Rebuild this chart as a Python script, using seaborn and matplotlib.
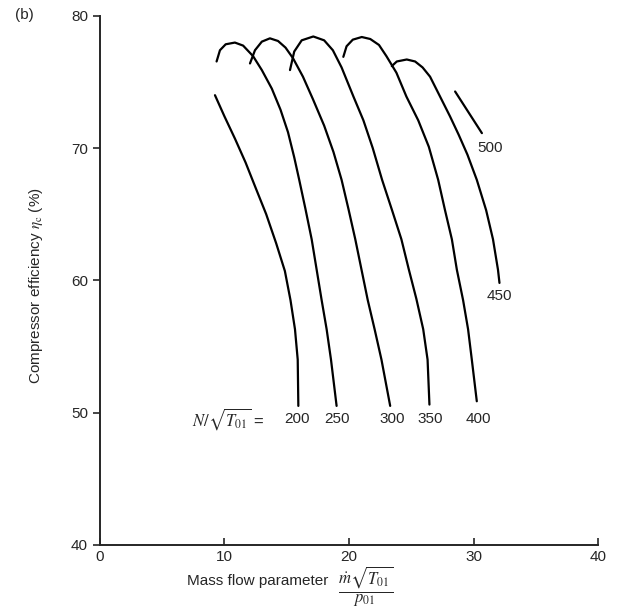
import pandas as pd
import matplotlib
matplotlib.use('Agg')
import matplotlib.pyplot as plt
import seaborn as sns

# Speed lines N/sqrt(T01): mass flow parameter vs compressor efficiency (%)
x_200 = [9.24, 10.0, 10.85, 11.7, 12.5, 13.35, 14.15, 14.85, 15.3, 15.66, 15.88, 15.93]
y_200 = [74.0, 72.4, 70.7, 68.9, 67.0, 65.0, 62.8, 60.7, 58.5, 56.3, 54.0, 50.5]

x_250 = [9.37, 9.64, 10.1, 10.84, 11.5, 12.3, 13.0, 13.8, 14.5, 15.1, 15.6, 16.0,
         16.5, 17.0, 17.4, 17.8, 18.2, 18.55, 19.0]
y_250 = [76.55, 77.4, 77.85, 77.98, 77.75, 76.95, 75.9, 74.5, 72.9, 71.2, 69.3, 67.6,
         65.4, 63.1, 60.8, 58.5, 56.3, 54.0, 50.5]

x_300 = [12.05, 12.45, 13.0, 13.65, 14.3, 14.9, 15.5, 16.3, 17.1, 18.0, 18.75, 19.4,
         19.95, 20.5, 21.0, 21.5, 22.05, 22.6, 23.3]
y_300 = [76.4, 77.4, 78.05, 78.3, 78.1, 77.6, 76.8, 75.4, 73.7, 71.7, 69.7, 67.6,
         65.4, 63.1, 60.8, 58.5, 56.3, 54.0, 50.5]

x_350 = [15.26, 15.6, 16.2, 17.13, 18.0, 18.7, 19.4, 20.35, 21.15, 21.9, 22.65, 23.45,
         24.2, 24.8, 25.4, 25.95, 26.3, 26.45]
y_350 = [75.9, 77.3, 78.15, 78.44, 78.15, 77.4, 76.1, 73.9, 72.1, 70.0, 67.6, 65.3,
         63.1, 60.8, 58.6, 56.3, 54.0, 50.6]

x_400 = [19.54, 19.8, 20.3, 21.02, 21.7, 22.4, 23.0, 23.8, 24.6, 25.55, 26.4, 27.15,
         27.7, 28.25, 28.65, 29.15, 29.55, 29.85, 30.25]
y_400 = [76.9, 77.7, 78.2, 78.4, 78.25, 77.8, 76.95, 75.7, 73.9, 72.1, 70.1, 67.6,
         65.3, 63.1, 60.8, 58.5, 56.3, 54.0, 50.85]

x_450 = [23.43, 23.83, 24.63, 25.3, 25.9, 26.5, 27.3, 28.1, 28.8, 29.5, 30.25, 31.0,
         31.55, 31.95, 32.07]
y_450 = [76.2, 76.55, 76.7, 76.55, 76.1, 75.4, 73.9, 72.4, 71.0, 69.5, 67.6, 65.3,
         63.1, 60.8, 59.8]

x_500 = [28.51, 30.66]
y_500 = [74.28, 71.13]

speeds = ['200', '250', '300', '350', '400', '450', '500']
xs = [x_200, x_250, x_300, x_350, x_400, x_450, x_500]
ys = [y_200, y_250, y_300, y_350, y_400, y_450, y_500]

# speed label positions (data coords)
label_x = [15.8, 19.0, 23.5, 26.5, 30.4, 32.1, 31.3]
label_y = [49.5, 49.5, 49.5, 49.5, 49.5, 58.8, 70.0]

rows = []
for s, xv, yv in zip(speeds, xs, ys):
    for i, (a, b) in enumerate(zip(xv, yv)):
        rows.append({'speed': s, 'order': i, 'flow': a, 'eff': b})
df = pd.DataFrame(rows)

sns.set_style('ticks')
plt.rcParams['font.family'] = ['Liberation Sans', 'DejaVu Sans']
plt.rcParams['mathtext.fontset'] = 'stix'

fig = plt.figure(figsize=(6.2, 6.1), dpi=100)
ax = fig.add_axes([0.161, 0.107, 0.804, 0.867])

sns.lineplot(data=df, x='flow', y='eff', units='speed', estimator=None, sort=False,
             color='black', linewidth=1.6, ax=ax)

for s, lx, ly in zip(speeds, label_x, label_y):
    ax.text(lx, ly, s, ha='center', va='center', fontsize=11)
ax.text(13.2, 49.5, r'$N/\sqrt{T_{01}}$ =', ha='right', va='center', fontsize=12)

ax.set_xlim(0, 40)
ax.set_ylim(40, 80)
ax.set_xticks([0, 10, 20, 30, 40])
ax.set_yticks([40, 50, 60, 70, 80])
ax.tick_params(axis='y', direction='out', length=5, width=1.2, labelsize=11)
ax.tick_params(axis='x', direction='in', length=5, width=1.2, labelsize=11)
sns.despine(ax=ax)
for sp in ['left', 'bottom']:
    ax.spines[sp].set_linewidth(1.4)

ax.set_xlabel('')
ax.set_ylabel(r'Compressor efficiency $\eta_{\rm c}$ (%)', fontsize=11)
ax.yaxis.set_label_coords(-0.11, 0.49)
fig.text(0.415, 1 - 581 / 610, 'Mass flow parameter', fontsize=11, ha='center', va='center')
fig.text(0.59, 1 - 587 / 610, r'$\dfrac{\dot{m}\sqrt{T_{01}}}{p_{01}}$', fontsize=12,
         ha='center', va='center')
fig.text(0.025, 0.975, '(b)', fontsize=11, ha='left', va='center')

fig.savefig('out.png', dpi=100)
